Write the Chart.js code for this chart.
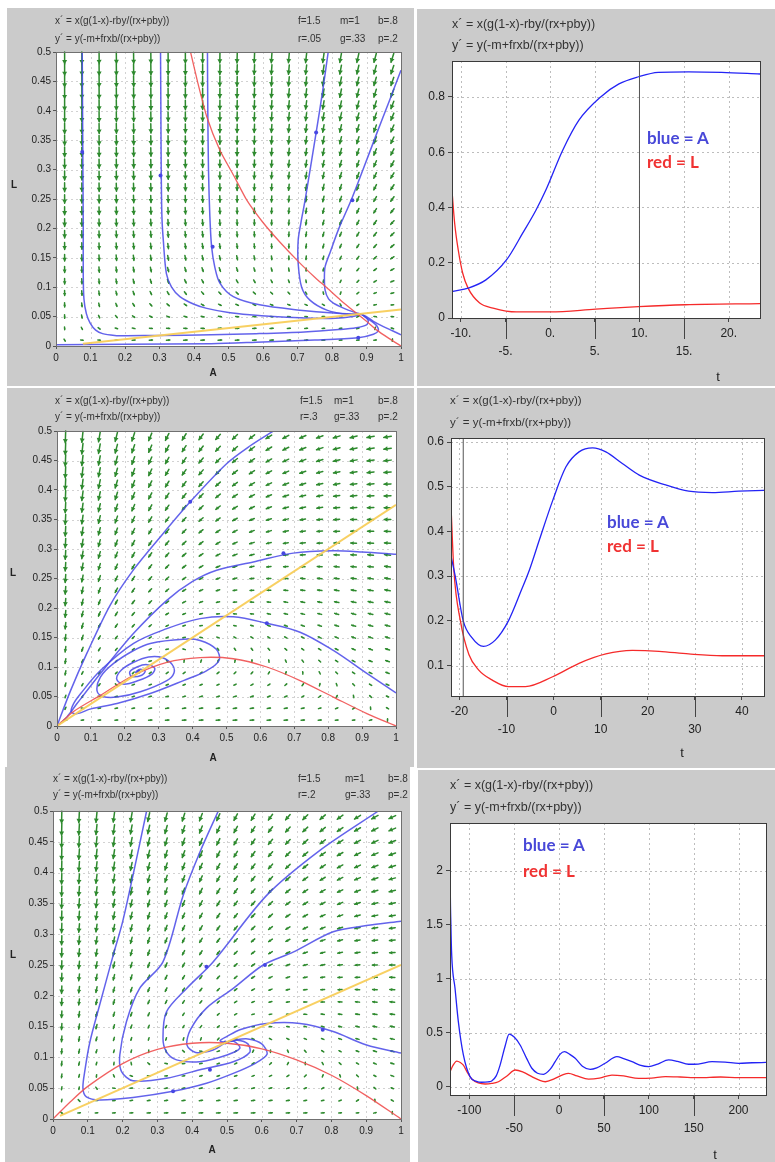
<!DOCTYPE html>
<html>
<head>
<meta charset="utf-8">
<title>Ratio-dependent predator-prey model</title>
<script src="https://cdn.jsdelivr.net/npm/chart.js@4.4.1/dist/chart.umd.min.js"></script>
<style>
  html, body { margin: 0; padding: 0; background: #fff; }
  body { position: relative; width: 775px; height: 1162px; overflow: hidden; font-family: "Liberation Sans", Arial, sans-serif; }
  .panel { position: absolute; background: #cbcbcb; }
  .panel canvas { position: absolute; left: 0; top: 0; }
  .t { position: absolute; white-space: nowrap; color: #333; }
  .tag { position: absolute; white-space: nowrap; font-family: Lato, "Open Sans", sans-serif; font-weight: 700; }
</style>
</head>
<body>
<script>
// parameters printed in the panel headers
const modelF = 1.5, modelM = 1, modelB = 0.8, modelG = 0.33, modelP = 0.2;
const rByRow = [0.05, 0.3, 0.2];
const rLabels = ["r=.05", "r=.3", "r=.2"];

// phase plane axes (A horizontal, L vertical)
const phaseXTicks = [0, 0.1, 0.2, 0.3, 0.4, 0.5, 0.6, 0.7, 0.8, 0.9, 1];
const phaseXLabels = ["0", "0.1", "0.2", "0.3", "0.4", "0.5", "0.6", "0.7", "0.8", "0.9", "1"];
const phaseYTicks = [0, 0.05, 0.1, 0.15, 0.2, 0.25, 0.3, 0.35, 0.4, 0.45, 0.5];
const phaseYLabels = ["0", "0.05", "0.1", "0.15", "0.2", "0.25", "0.3", "0.35", "0.4", "0.45", "0.5"];
const arrowXs = [0.025, 0.075, 0.125, 0.175, 0.225, 0.275, 0.325, 0.375, 0.425, 0.475,
                 0.525, 0.575, 0.625, 0.675, 0.725, 0.775, 0.825, 0.875, 0.925, 0.975];
const arrowYs = [0.01, 0.03, 0.05, 0.07, 0.09, 0.11, 0.13, 0.15, 0.17, 0.19, 0.21, 0.23, 0.25,
                 0.27, 0.29, 0.31, 0.33, 0.35, 0.37, 0.39, 0.41, 0.43, 0.45, 0.47, 0.49];

// ---- row 1 phase plane (r=.05) ----
const topTraj1 = [[0.076,0.5],[0.077,0.4],[0.078,0.3],[0.079,0.2],[0.079,0.12],[0.081,0.08],[0.088,0.055],[0.099,0.039],[0.115,0.027],[0.135,0.021],[0.17,0.018],[0.205,0.0175],[0.3,0.018],[0.45,0.019],[0.58,0.021],[0.72,0.024],[0.82,0.028],[0.87,0.031],[0.9,0.036],[0.905,0.043],[0.895,0.05],[0.885,0.054]];
const topTraj2 = [[0.303,0.5],[0.304,0.4],[0.305,0.3],[0.307,0.22],[0.311,0.18],[0.32,0.123],[0.335,0.1],[0.359,0.084],[0.4,0.071],[0.437,0.064],[0.5,0.057],[0.562,0.053],[0.63,0.05],[0.707,0.048],[0.81,0.047],[0.86,0.05],[0.885,0.054]];
const topTraj3 = [[0.439,0.5],[0.44,0.4],[0.442,0.3],[0.446,0.22],[0.451,0.169],[0.46,0.135],[0.475,0.107],[0.514,0.084],[0.59,0.07],[0.707,0.061],[0.804,0.056],[0.885,0.054]];
const topTraj4 = [[0.789,0.5],[0.772,0.43],[0.754,0.363],[0.722,0.248],[0.71,0.21],[0.702,0.18],[0.702,0.14],[0.712,0.1],[0.736,0.078],[0.785,0.061],[0.843,0.054],[0.885,0.054]];
const topTraj5 = [[1.0,0.469],[0.965,0.415],[0.93,0.362],[0.89,0.3],[0.857,0.25],[0.82,0.2],[0.795,0.16],[0.78,0.135],[0.778,0.115],[0.78,0.095],[0.79,0.08],[0.804,0.073],[0.835,0.064],[0.862,0.058],[0.885,0.054]];
const topTraj6 = [[0.0,0.002],[0.2,0.003],[0.45,0.004],[0.6,0.007],[0.75,0.01],[0.876,0.014],[0.92,0.02],[0.934,0.026],[0.93,0.034],[0.915,0.042],[0.895,0.05],[0.885,0.054]];
const topTraj7 = [[1.0,0.019],[0.975,0.026],[0.949,0.033],[0.92,0.042],[0.9,0.05],[0.885,0.054]];
const topAxisLine = [[0,0],[0,0.5]];
const topNullA = [[0.39,0.5],[0.41,0.45],[0.437,0.39],[0.475,0.333],[0.515,0.29],[0.553,0.248],[0.6,0.21],[0.65,0.176],[0.707,0.141],[0.75,0.117],[0.785,0.099],[0.825,0.078],[0.862,0.06],[0.9,0.042],[0.93,0.027],[0.965,0.013],[1.0,0.0]];
const topNullL = [[0.078,0.004],[1.0,0.062]];
const topDots = [[0.076,0.33],[0.303,0.29],[0.754,0.363],[0.454,0.169],[0.859,0.248],[0.876,0.014]];

// ---- row 2 phase plane (r=.3) ----
const midTraj1 = [[0.0,0.0],[0.04,0.06],[0.088,0.123],[0.157,0.205],[0.226,0.265],[0.304,0.32],[0.393,0.38],[0.501,0.445],[0.57,0.475],[0.638,0.5]];
const midTraj2 = [[0.0,0.0],[0.029,0.015],[0.059,0.038],[0.128,0.089],[0.226,0.157],[0.324,0.213],[0.4,0.245],[0.471,0.264],[0.579,0.278],[0.697,0.293],[0.815,0.297],[0.9,0.295],[1.0,0.291]];
const midTraj3 = [[1.0,0.056],[0.914,0.089],[0.815,0.128],[0.717,0.159],[0.619,0.174],[0.52,0.185],[0.422,0.182],[0.324,0.165],[0.226,0.14],[0.128,0.094],[0.07,0.055],[0.049,0.038],[0.042,0.024],[0.06,0.021],[0.1,0.029],[0.177,0.038],[0.275,0.055],[0.373,0.077],[0.442,0.094],[0.478,0.111],[0.47,0.13],[0.422,0.145],[0.373,0.147],[0.275,0.14],[0.226,0.128],[0.167,0.106],[0.128,0.083],[0.118,0.06],[0.135,0.05],[0.177,0.049],[0.246,0.058],[0.324,0.077],[0.345,0.09],[0.34,0.104],[0.31,0.116],[0.27,0.117],[0.226,0.108],[0.19,0.095],[0.176,0.08],[0.195,0.071],[0.24,0.077],[0.28,0.088],[0.288,0.098],[0.265,0.104],[0.236,0.1],[0.215,0.092],[0.22,0.084],[0.25,0.086],[0.26,0.093],[0.245,0.096],[0.232,0.091],[0.241,0.092]];
const midNullA = [[0.0,0.0],[0.05,0.025],[0.128,0.052],[0.226,0.086],[0.324,0.108],[0.422,0.116],[0.52,0.114],[0.619,0.1],[0.717,0.077],[0.815,0.049],[0.914,0.021],[1.0,0.0]];
const midNullL = [[0.0,0.0],[1.0,0.375]];
const midDots = [[0.393,0.38],[0.668,0.293],[0.619,0.174],[0.241,0.092]];

// ---- row 3 phase plane (r=.2) ----
const botTraj1 = [[0.269,0.5],[0.23,0.396],[0.2,0.32],[0.173,0.266],[0.134,0.185],[0.106,0.125],[0.092,0.08],[0.086,0.05],[0.096,0.036],[0.134,0.031],[0.23,0.035],[0.345,0.045],[0.441,0.058],[0.518,0.074],[0.58,0.09],[0.615,0.105],[0.6,0.122],[0.56,0.13],[0.52,0.128],[0.5,0.125]];
const botTraj2 = [[0.475,0.5],[0.422,0.433],[0.374,0.363],[0.316,0.255],[0.249,0.212],[0.211,0.158],[0.192,0.104],[0.197,0.077],[0.23,0.062],[0.326,0.066],[0.422,0.08],[0.518,0.093],[0.565,0.108],[0.56,0.122],[0.53,0.128],[0.5,0.125]];
const botTraj3 = [[0.935,0.5],[0.767,0.436],[0.614,0.363],[0.46,0.255],[0.384,0.212],[0.326,0.174],[0.316,0.131],[0.326,0.109],[0.355,0.096],[0.422,0.093],[0.5,0.104],[0.537,0.115],[0.52,0.126],[0.5,0.125]];
const botTraj4 = [[1.0,0.321],[0.901,0.314],[0.805,0.304],[0.69,0.271],[0.604,0.25],[0.518,0.212],[0.441,0.18],[0.395,0.145],[0.385,0.12],[0.41,0.108],[0.46,0.112],[0.495,0.124]];
const botTraj5 = [[1.0,0.107],[0.901,0.12],[0.805,0.142],[0.71,0.155],[0.614,0.155],[0.537,0.145],[0.5,0.134],[0.48,0.127],[0.495,0.124]];
const botNullA = [[0.0,0.0],[0.05,0.028],[0.1,0.053],[0.2,0.09],[0.3,0.113],[0.4,0.123],[0.5,0.123],[0.6,0.114],[0.7,0.096],[0.8,0.071],[0.9,0.038],[1.0,0.0]];
const botNullL = [[0.02,0.005],[1.0,0.25]];
const botDots = [[0.345,0.045],[0.451,0.08],[0.609,0.25],[0.441,0.247],[0.775,0.145],[0.495,0.124]];

// ---- time series ----
const topTTicks = [-10, -5, 0, 5, 10, 15, 20];
const topTLabels = ["-10.", "-5.", "0.", "5.", "10.", "15.", "20."];
const topVTicks = [0, 0.2, 0.4, 0.6, 0.8];
const topVLabels = ["0", "0.2", "0.4", "0.6", "0.8"];
const topBlueA = [[-11,0.095],[-10.9,0.096],[-9.2,0.108],[-7.2,0.138],[-4.9,0.21],[-3.1,0.306],[-1.6,0.39],[-0.5,0.462],[1.4,0.607],[3.2,0.715],[5.65,0.8],[7.7,0.847],[9.9,0.873],[12.1,0.889],[15.5,0.891],[19.2,0.889],[23.5,0.883]];
const topRedL = [[-11,0.46],[-10.7,0.342],[-10.3,0.246],[-9.8,0.162],[-9.2,0.108],[-7.9,0.054],[-6.4,0.036],[-3.8,0.022],[0,0.022],[5.1,0.032],[9.9,0.041],[15.1,0.048],[23.5,0.052]];
const topMarkT = [10];

const midTTicks = [-20, -10, 0, 10, 20, 30, 40];
const midTLabels = ["-20", "-10", "0", "10", "20", "30", "40"];
const midVTicks = [0.1, 0.2, 0.3, 0.4, 0.5, 0.6];
const midVLabels = ["0.1", "0.2", "0.3", "0.4", "0.5", "0.6"];
const midBlueA = [[-21.8,0.345],[-20.9,0.3],[-19.2,0.2],[-17.4,0.163],[-14.9,0.143],[-12.4,0.157],[-9.6,0.2],[-6.8,0.27],[-5.1,0.315],[-3.0,0.382],[-0.2,0.469],[2.6,0.544],[5.4,0.578],[8.3,0.587],[11.1,0.578],[14.6,0.552],[18.2,0.526],[23.8,0.504],[28.7,0.49],[33.7,0.487],[39.3,0.49],[44.7,0.492]];
const midRedL = [[-21.8,0.457],[-21.2,0.315],[-19.8,0.2],[-18.0,0.125],[-15.9,0.09],[-13.1,0.068],[-9.6,0.053],[-6.0,0.053],[-0.2,0.075],[5.4,0.105],[11.1,0.126],[16.7,0.134],[22.4,0.132],[28.7,0.126],[35.8,0.122],[44.7,0.122]];
const midMarkT = [-19.2];

const botTTicks = [-100, -50, 0, 50, 100, 150, 200];
const botTLabels = ["-100", "-50", "0", "50", "100", "150", "200"];
const botVTicks = [0, 0.5, 1, 1.5, 2];
const botVLabels = ["0", "0.5", "1", "1.5", "2"];
const botBlueA = [[-121.5,2.33],[-121.2,1.85],[-120.5,1.5],[-119.6,1.22],[-115.9,0.913],[-112.2,0.603],[-106.6,0.294],[-99.2,0.093],[-92,0.05],[-86.2,0.041],[-79,0.045],[-75,0.053],[-70,0.1],[-65.7,0.2],[-60,0.38],[-55.6,0.488],[-50,0.46],[-43.4,0.387],[-36,0.26],[-30.3,0.171],[-24,0.125],[-17.3,0.115],[-10,0.16],[-4.3,0.232],[1,0.3],[6.1,0.325],[12,0.3],[18,0.263],[26,0.19],[34.7,0.161],[42,0.175],[51.4,0.217],[64.5,0.278],[72,0.26],[81.3,0.232],[90,0.2],[99.8,0.186],[110,0.21],[122.1,0.248],[132,0.235],[144.4,0.208],[155,0.21],[170.5,0.232],[185,0.228],[200.3,0.217],[215,0.222],[230.6,0.225]];
const botRedL = [[-121.5,0.139],[-118,0.2],[-114,0.238],[-110,0.225],[-106.6,0.2],[-102,0.13],[-97.2,0.071],[-90,0.035],[-82.4,0.025],[-75,0.03],[-67.5,0.046],[-58,0.1],[-48.8,0.155],[-40,0.135],[-30.3,0.093],[-22,0.06],[-15.4,0.046],[-5,0.075],[4,0.11],[10.6,0.124],[20,0.1],[32.9,0.071],[45,0.08],[59,0.108],[72,0.1],[88.8,0.077],[103,0.08],[118.5,0.093],[135,0.09],[155.7,0.084],[180,0.09],[200.3,0.084],[230.6,0.084]];

// ---------------------------------------------------------------
const pts = arr => arr.map(([x, y]) => ({ x, y }));

function rates(r, x, y) {
  const d = r * x + modelP * modelB * y;
  return [x * (modelG * (1 - x) - r * modelB * y / d),
          y * (-modelM + modelF * r * x * modelB / d)];
}

function addText(str, x, y, size, cls, extra) {
  const el = document.createElement("div");
  el.className = cls || "t";
  el.textContent = str;
  el.style.left = x + "px";
  el.style.top = (y - size * 0.6) + "px";
  el.style.fontSize = size + "px";
  el.style.lineHeight = (size * 1.2) + "px";
  Object.assign(el.style, extra || {});
  document.body.appendChild(el);
  return el;
}

function makePanel(box) {
  const div = document.createElement("div");
  div.className = "panel";
  div.style.left = box[0] + "px";
  div.style.top = box[1] + "px";
  div.style.width = box[2] + "px";
  div.style.height = box[3] + "px";
  const cv = document.createElement("canvas");
  cv.width = box[2];
  cv.height = box[3];
  div.appendChild(cv);
  document.body.appendChild(div);
  return cv;
}

function axisOpts(min, max, ticks, labels, fit, size, extra) {
  return Object.assign({
    type: "linear", min, max,
    afterFit: fit,
    afterBuildTicks: s => { s.ticks = ticks.map(v => ({ value: v })); },
    ticks: {
      autoSkip: false, maxRotation: 0, color: "#222", padding: 2,
      font: { family: "Liberation Sans", size },
      callback: (v, i) => labels[i]
    },
    grid: { drawOnChartArea: false, tickLength: 3, tickColor: "#555", tickWidth: 1 },
    border: { display: false }
  }, extra || {});
}

function frameOpts(box, plot) {
  return {
    responsive: false, animation: false, devicePixelRatio: 1,
    layout: { padding: { left: 0, bottom: 0, top: plot[1] - box[1], right: box[0] + box[2] - plot[2] } },
    plugins: { legend: { display: false }, tooltip: { enabled: false } }
  };
}

function gridAndFrame(xTicks, yTicks, borderColor, fieldR, longTicks) {
  return {
    id: "gridAndFrame",
    beforeDraw(chart) {
      const { ctx, chartArea: a, scales: { x, y } } = chart;
      ctx.save();
      ctx.fillStyle = "#fff";
      ctx.fillRect(a.left, a.top, a.right - a.left, a.bottom - a.top);
      ctx.strokeStyle = fieldR !== undefined ? "#d2d2d2" : "#bdbdbd";
      ctx.lineWidth = 1;
      ctx.setLineDash([2, 3]);
      xTicks.forEach(v => {
        const px = Math.round(x.getPixelForValue(v)) + 0.5;
        ctx.beginPath(); ctx.moveTo(px, a.top); ctx.lineTo(px, a.bottom); ctx.stroke();
      });
      yTicks.forEach(v => {
        const py = Math.round(y.getPixelForValue(v)) + 0.5;
        ctx.beginPath(); ctx.moveTo(a.left, py); ctx.lineTo(a.right, py); ctx.stroke();
      });
      ctx.setLineDash([]);
      if (fieldR !== undefined) {
        // direction field of the model written in the header
        const sx = (x.right - x.left) / (x.max - x.min);
        const sy = (y.bottom - y.top) / (y.max - y.min);
        const vecs = [];
        let vmax = 0;
        arrowXs.forEach(ax => arrowYs.forEach(ay => {
          const [dx, dy] = rates(fieldR, ax, ay);
          const vx = dx * sx, vy = -dy * sy;
          const mag = Math.hypot(vx, vy);
          vmax = Math.max(vmax, mag);
          vecs.push([x.getPixelForValue(ax), y.getPixelForValue(ay), vx, vy, mag]);
        }));
        ctx.strokeStyle = "#2e8a2e";
        ctx.fillStyle = "#2e8a2e";
        ctx.lineWidth = 1.5;
        ctx.lineCap = "round";
        vecs.forEach(([cx, cy, vx, vy, mag]) => {
          if (mag === 0) return;
          const len = Math.max(2.5, 12 * Math.sqrt(mag / vmax));
          const ux = vx / mag, uy = vy / mag;
          const x0 = cx - ux * len / 2, y0 = cy - uy * len / 2;
          const x1 = cx + ux * len / 2, y1 = cy + uy * len / 2;
          ctx.beginPath(); ctx.moveTo(x0, y0); ctx.lineTo(x1, y1); ctx.stroke();
          const h = Math.min(3.8, len * 0.5);
          ctx.beginPath();
          ctx.moveTo(x1 + ux * 0.6, y1 + uy * 0.6);
          ctx.lineTo(x1 - ux * h - uy * h * 0.65, y1 - uy * h + ux * h * 0.65);
          ctx.lineTo(x1 - ux * h + uy * h * 0.65, y1 - uy * h - ux * h * 0.65);
          ctx.closePath(); ctx.fill();
        });
      }
      ctx.restore();
    },
    afterDraw(chart) {
      const { ctx, chartArea: a, scales: { x } } = chart;
      ctx.save();
      ctx.strokeStyle = borderColor;
      ctx.lineWidth = 1;
      ctx.strokeRect(Math.round(a.left) + 0.5, Math.round(a.top) + 0.5,
                     Math.round(a.right - a.left), Math.round(a.bottom - a.top));
      if (longTicks) {
        ctx.strokeStyle = "#444";
        xTicks.forEach((v, i) => {
          if (i % 2 === 0) return;
          const px = Math.round(x.getPixelForValue(v)) + 0.5;
          ctx.beginPath(); ctx.moveTo(px, a.bottom); ctx.lineTo(px, a.bottom + 21); ctx.stroke();
        });
      }
      ctx.restore();
    }
  };
}

function line(data, color, width, tension) {
  return { data: pts(data), showLine: true, borderColor: color, backgroundColor: color,
           borderWidth: width, pointRadius: 0, tension: tension || 0 };
}

function phaseChart(box, plot, r, sets, dots) {
  const cv = makePanel(box);
  const datasets = sets.concat([{ data: pts(dots), showLine: false, pointRadius: 2,
    backgroundColor: "#4646e0", borderWidth: 0 }]);
  const opts = frameOpts(box, plot);
  opts.scales = {
    x: axisOpts(0, 1, phaseXTicks, phaseXLabels, s => { s.height = box[1] + box[3] - plot[3]; }, 10,
      { ticks: { autoSkip: false, maxRotation: 0, color: "#222", padding: 3,
        font: { family: "Liberation Sans", size: 10 }, callback: (v, i) => phaseXLabels[i] } }),
    y: axisOpts(0, 0.5, phaseYTicks, phaseYLabels, s => { s.width = plot[0] - box[0]; }, 10)
  };
  new Chart(cv, { type: "scatter", data: { datasets }, options: opts,
    plugins: [gridAndFrame(phaseXTicks, phaseYTicks, "#707070", r, false)] });
}

function seriesChart(box, plot, xr, yr, xTicks, xLabels, yTicks, yLabels, blue, red, mark) {
  const cv = makePanel(box);
  const datasets = [
    { data: pts(blue), borderColor: "#2323f5", borderWidth: 1.3, pointRadius: 0, cubicInterpolationMode: "monotone" },
    { data: pts(red), borderColor: "#f52a2a", borderWidth: 1.3, pointRadius: 0, cubicInterpolationMode: "monotone" }
  ];
  mark.forEach(t => datasets.unshift({ data: [{ x: t, y: yr[0] }, { x: t, y: yr[1] }],
    borderColor: "#555", borderWidth: 1, pointRadius: 0 }));
  const opts = frameOpts(box, plot);
  opts.scales = {
    x: axisOpts(xr[0], xr[1], xTicks, xLabels, s => { s.height = box[1] + box[3] - plot[3]; }, 12, {
      ticks: { autoSkip: false, maxRotation: 0, color: "#222", padding: 3,
        font: { family: "Liberation Sans", size: 12, lineHeight: "18px" },
        callback: (v, i) => (i % 2 ? ["", xLabels[i]] : xLabels[i]) },
      grid: { drawOnChartArea: false, tickLength: 4, tickColor: "#444" }
    }),
    y: axisOpts(yr[0], yr[1], yTicks, yLabels, s => { s.width = plot[0] - box[0]; }, 12, {
      ticks: { autoSkip: false, color: "#222", padding: 3,
        font: { family: "Liberation Sans", size: 12 }, callback: (v, i) => yLabels[i] },
      grid: { drawOnChartArea: false, tickLength: 4, tickColor: "#444" }
    })
  };
  new Chart(cv, { type: "line", data: { datasets }, options: opts,
    plugins: [gridAndFrame(xTicks, yTicks, "#3a3a3a", undefined, true)] });
}

const trajBlue = "rgba(72,72,232,0.85)";
const nullRed = "rgba(240,80,80,0.9)";
const nullYellow = "rgba(248,205,90,0.95)";

// ---- row 1 ----
phaseChart([7, 8, 407, 378], [56, 52, 401, 346], rByRow[0], [
  line(topNullL, nullYellow, 2),
  line(topNullA, nullRed, 1.3, 0.2),
  line(topTraj1, trajBlue, 1.5, 0.3), line(topTraj2, trajBlue, 1.5, 0.3),
  line(topTraj3, trajBlue, 1.5, 0.3), line(topTraj4, trajBlue, 1.5, 0.3),
  line(topTraj5, trajBlue, 1.5, 0.3), line(topTraj6, trajBlue, 1.5, 0.3),
  line(topTraj7, trajBlue, 1.5, 0.3),
  line(topAxisLine, "#c0306e", 2)
], topDots);
seriesChart([417, 9, 358, 377], [452, 61, 760, 318], [-11, 23.5], [0, 0.93],
  topTTicks, topTLabels, topVTicks, topVLabels, topBlueA, topRedL, topMarkT);

// ---- row 2 ----
phaseChart([7, 388, 407, 379], [57, 431, 396, 726], rByRow[1], [
  line(midNullL, nullYellow, 2),
  line(midNullA, nullRed, 1.3, 0.3),
  line(midTraj1, trajBlue, 1.5, 0.3), line(midTraj2, trajBlue, 1.5, 0.3),
  line(midTraj3, trajBlue, 1.5, 0.35)
], midDots);
seriesChart([417, 388, 358, 380], [451, 438, 764, 696], [-21.8, 44.7], [0.032, 0.609],
  midTTicks, midTLabels, midVTicks, midVLabels, midBlueA, midRedL, midMarkT);

// ---- row 3 ----
phaseChart([5, 767, 405, 395], [53, 811, 401, 1119], rByRow[2], [
  line(botNullL, nullYellow, 2),
  line(botNullA, nullRed, 1.3, 0.3),
  line(botTraj1, trajBlue, 1.5, 0.3), line(botTraj2, trajBlue, 1.5, 0.3),
  line(botTraj3, trajBlue, 1.5, 0.3), line(botTraj4, trajBlue, 1.5, 0.3),
  line(botTraj5, trajBlue, 1.5, 0.3)
], botDots);
seriesChart([418, 770, 357, 392], [450, 823, 766, 1095], [-121.5, 230.6], [-0.077, 2.445],
  botTTicks, botTLabels, botVTicks, botVLabels, botBlueA, botRedL, []);

// ---- text ----
const eqX = "x\u00b4 = x(g(1-x)-rby/(rx+pby))";
const eqY = "y\u00b4 = y(-m+frxb/(rx+pby))";
const headers = [
  { x: 55, y: [21, 39], size: 10, params: [298, 340, 378], row: 0 },
  { x: 452, y: [24, 45], size: 12.5 },
  { x: 55, y: [401, 417], size: 10, params: [300, 334, 378], row: 1 },
  { x: 450, y: [401, 423], size: 11.5 },
  { x: 53, y: [779, 795], size: 10, params: [298, 345, 388], row: 2 },
  { x: 450, y: [785, 807], size: 12.5 }
];
headers.forEach(h => {
  addText(eqX, h.x, h.y[0], h.size);
  addText(eqY, h.x, h.y[1], h.size);
  if (h.params) {
    ["f=1.5", "m=1", "b=.8"].forEach((s, i) => addText(s, h.params[i], h.y[0], h.size));
    [rLabels[h.row], "g=.33", "p=.2"].forEach((s, i) => addText(s, h.params[i], h.y[1], h.size));
  }
});
[[213, 373, 14, 185], [213, 758, 13, 573], [212, 1150, 13, 955]].forEach(([ax, ay, lx, ly]) => {
  addText("A", ax, ay, 10, "t", { fontWeight: "bold", transform: "translateX(-50%)", color: "#222" });
  addText("L", lx, ly, 10, "t", { fontWeight: "bold", transform: "translateX(-50%)", color: "#222" });
});
[[718, 377], [682, 753], [715, 1155]].forEach(([x, y]) =>
  addText("t", x, y, 13, "t", { transform: "translateX(-50%)", color: "#222" }));
[[647, 138, 162], [607, 522, 546], [523, 845, 871]].forEach(([x, yb, yr]) => {
  addText("blue = A", x, yb, 17, "tag", { color: "#4848d8" });
  addText("red = L", x, yr, 17, "tag", { color: "#f03232" });
});
</script>
</body>
</html>
